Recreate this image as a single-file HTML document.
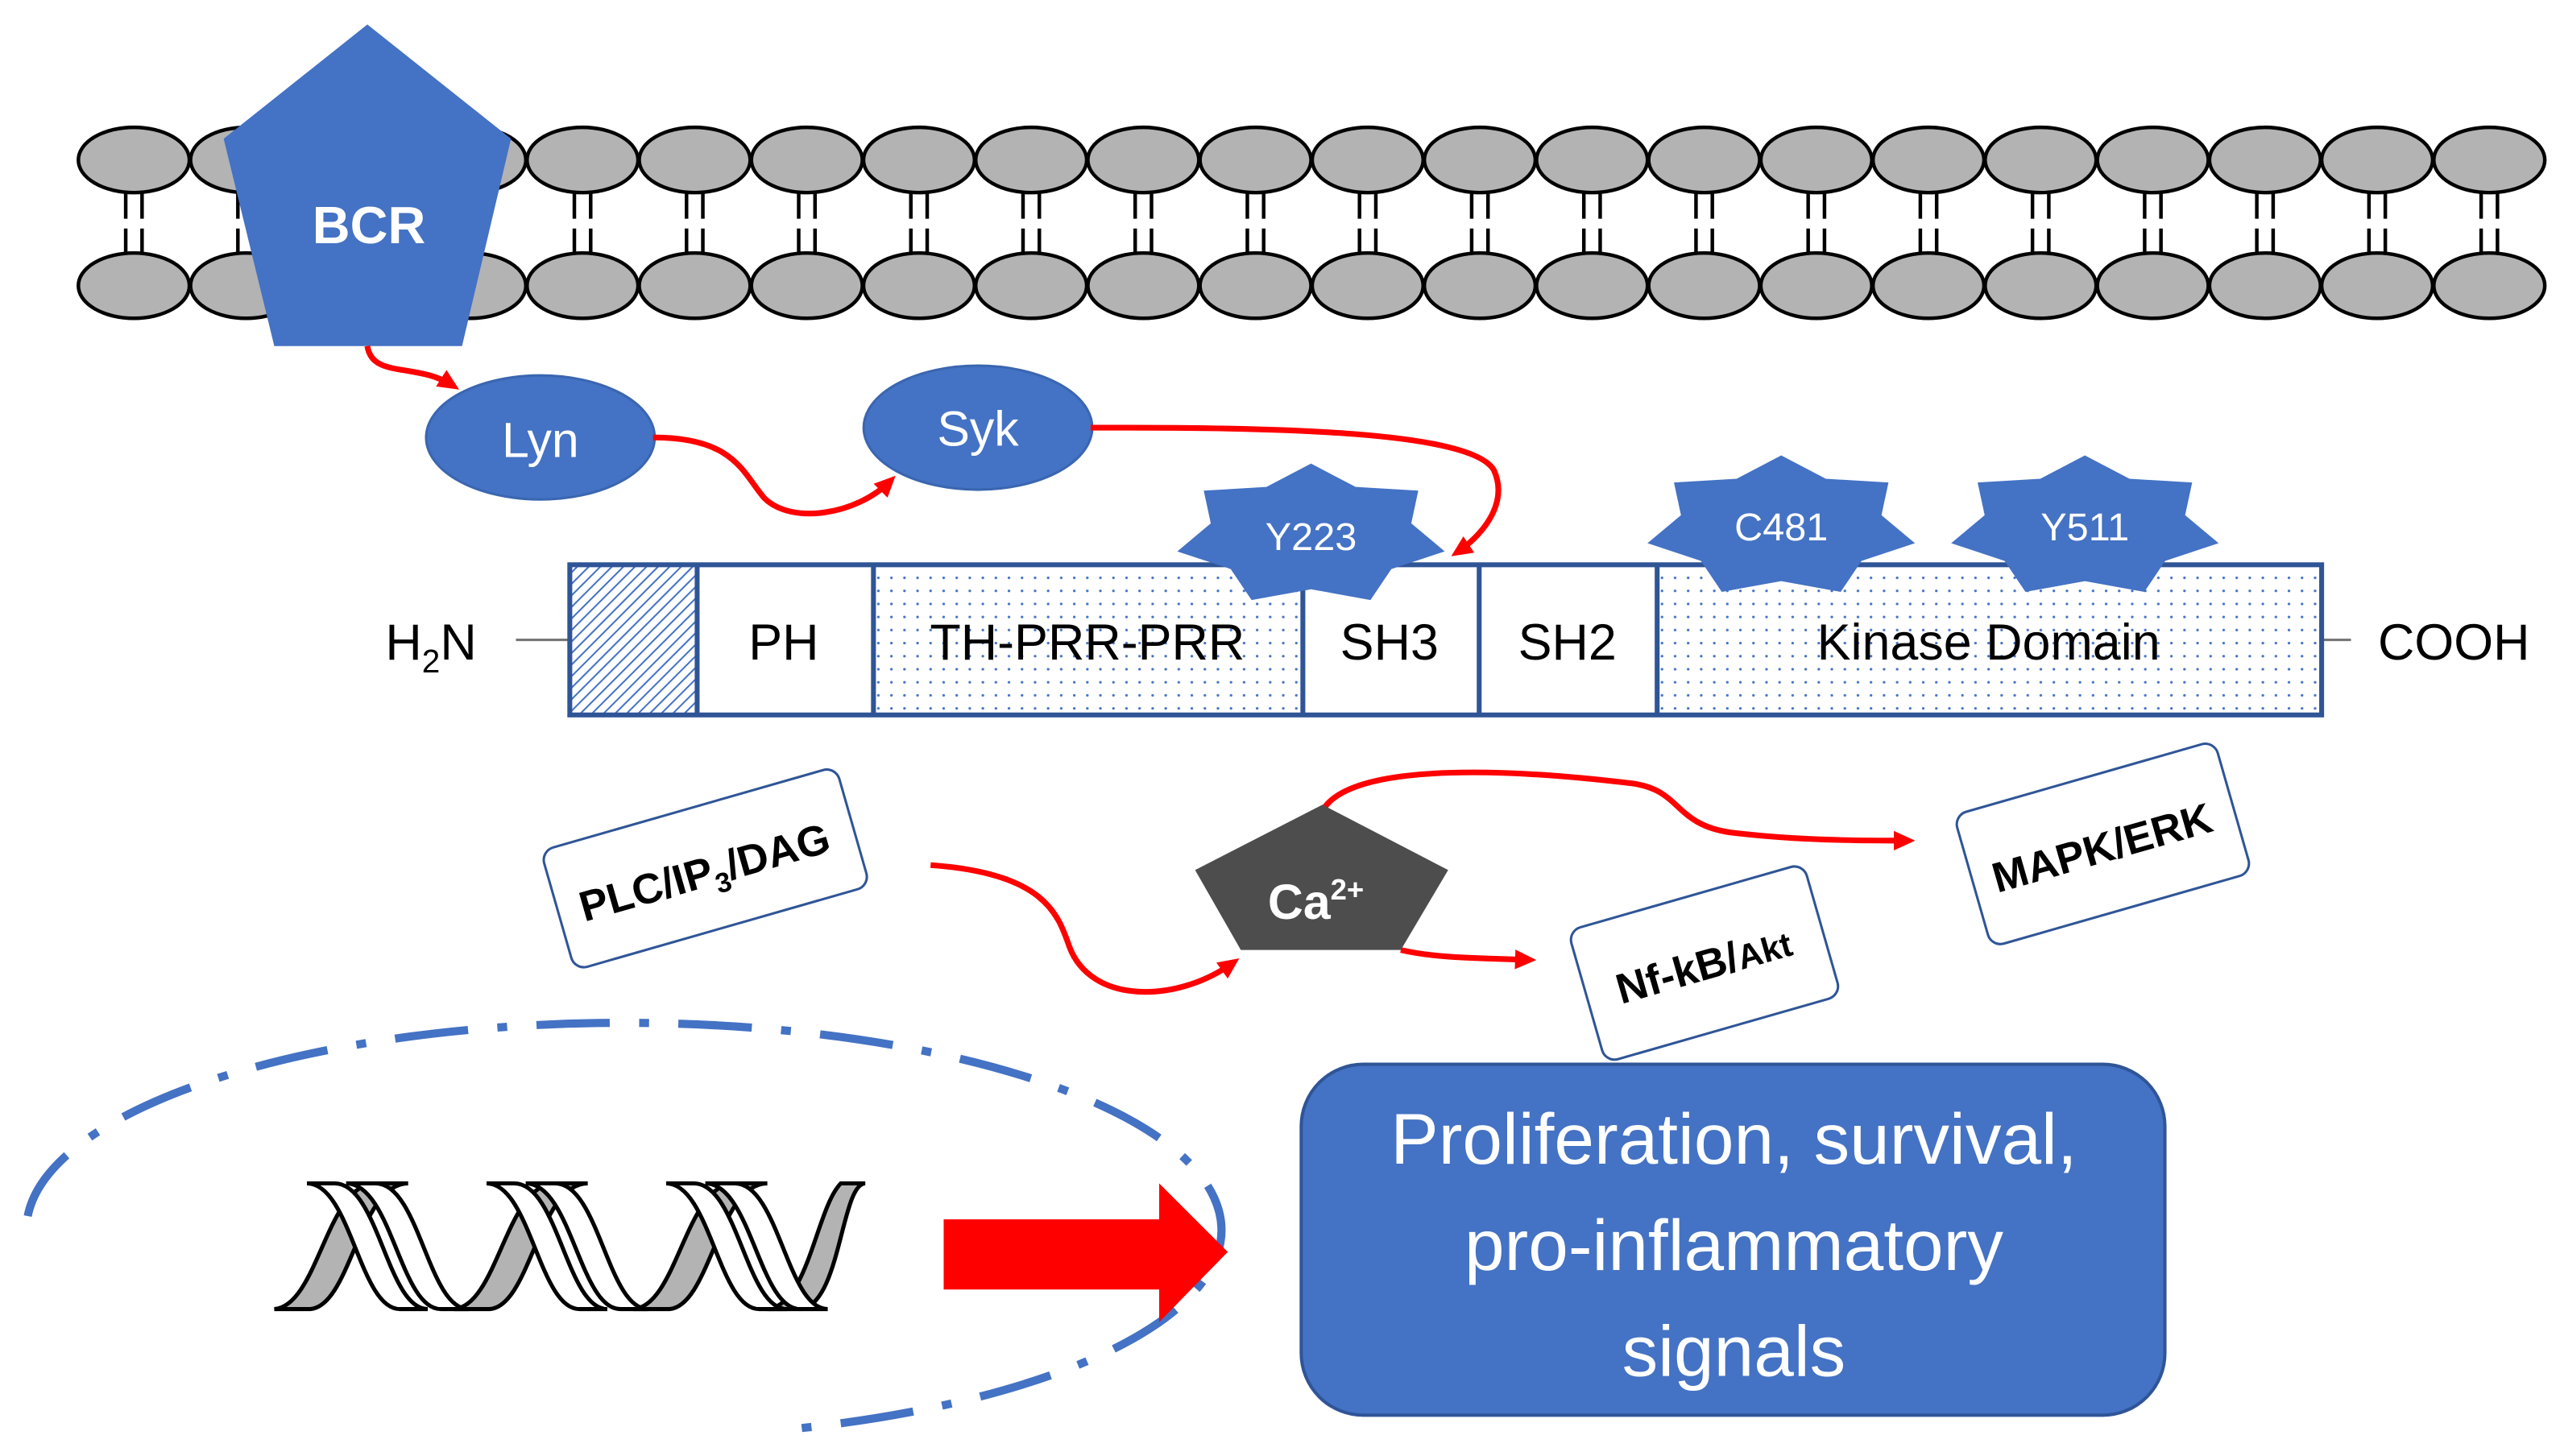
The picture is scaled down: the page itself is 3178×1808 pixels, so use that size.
<!DOCTYPE html>
<html><head><meta charset="utf-8"><style>
html,body{margin:0;padding:0;background:#fff;}
svg{display:block;}
text{font-family:"Liberation Sans",sans-serif;}
</style></head><body>
<svg width="3178" height="1808" viewBox="0 0 1568 892" preserveAspectRatio="none" xmlns="http://www.w3.org/2000/svg">
<defs>
<pattern id="hatch" width="5" height="5" patternUnits="userSpaceOnUse" patternTransform="rotate(45)">
<rect width="5" height="5" fill="#fff"/><line x1="0" y1="0" x2="0" y2="5" stroke="#4472c4" stroke-width="2"/></pattern>
<pattern id="dots" width="8" height="8" patternUnits="userSpaceOnUse">
<rect width="8" height="8" fill="#fff"/><circle cx="2" cy="2" r="0.8" fill="#4472c4"/></pattern>
<marker id="ah" markerWidth="14" markerHeight="14" refX="8" refY="7" orient="auto" markerUnits="userSpaceOnUse">
<path d="M0,1 L13,7 L0,13 z" fill="#f00"/></marker>
<g id="l" stroke="#000" stroke-width="2.2">
<line x1="-5" y1="116" x2="-5" y2="134"/><line x1="5" y1="116" x2="5" y2="134"/>
<line x1="-5" y1="140" x2="-5" y2="158"/><line x1="5" y1="140" x2="5" y2="158"/>
<ellipse cx="0" cy="98" rx="34" ry="20" fill="#b3b3b3"/>
<ellipse cx="0" cy="175" rx="34" ry="20" fill="#b3b3b3"/>
</g>
<polygon id="st" fill="#4472c4" points="0,-44 27.3,-29.7 65.7,-27.4 61.4,-7.4 81.9,9.8 49.2,20.6 36.4,39.6 0,33 -36.4,39.6 -49.2,20.6 -81.9,9.8 -61.4,-7.4 -65.7,-27.4 -27.3,-29.7"/>
</defs>

<!-- lipid bilayer -->
<use href="#l" x="82"/><use href="#l" x="150.7"/><use href="#l" x="219.4"/><use href="#l" x="288.1"/>
<use href="#l" x="356.8"/><use href="#l" x="425.5"/><use href="#l" x="494.2"/><use href="#l" x="562.9"/>
<use href="#l" x="631.6"/><use href="#l" x="700.3"/><use href="#l" x="769"/><use href="#l" x="837.7"/>
<use href="#l" x="906.4"/><use href="#l" x="975.1"/><use href="#l" x="1043.8"/><use href="#l" x="1112.5"/>
<use href="#l" x="1181.2"/><use href="#l" x="1249.9"/><use href="#l" x="1318.6"/><use href="#l" x="1387.3"/>
<use href="#l" x="1456"/><use href="#l" x="1524.7"/>

<!-- BCR -->
<polygon points="225,15 313,85 283,212 168,212 137,85" fill="#4472c4"/>
<text x="226" y="149" font-size="32" font-weight="bold" fill="#fff" text-anchor="middle">BCR</text>

<!-- Lyn, Syk -->
<ellipse cx="331" cy="268" rx="70" ry="38" fill="#4472c4" stroke="#3a66b0" stroke-width="1.5"/>
<text x="331" y="280" font-size="30" fill="#fff" text-anchor="middle">Lyn</text>
<ellipse cx="599" cy="262" rx="70" ry="38" fill="#4472c4" stroke="#3a66b0" stroke-width="1.5"/>
<text x="599" y="273" font-size="30" fill="#fff" text-anchor="middle">Syk</text>

<!-- red connectors -->
<g fill="none" stroke="#f00" stroke-width="3.5">
<path d="M225,212 C228,232 255,222 277,236" marker-end="url(#ah)"/>
<path d="M400,268 C450,268 455,290 468,305 C485,322 525,315 545,295" marker-end="url(#ah)"/>
<path d="M668,262 C760,262 900,262 915,288 C925,310 905,330 893,338" marker-end="url(#ah)"/>
<path d="M570,530 C640,535 648,560 655,580 C668,615 720,615 755,590" marker-end="url(#ah)"/>
<path d="M808,502 C815,470 900,468 1000,480 C1030,484 1025,505 1060,510 C1100,515 1140,515 1168,515" marker-end="url(#ah)"/>
<path d="M858,582 C880,587 905,587 936,588" marker-end="url(#ah)"/>
</g>

<!-- protein bar -->
<line x1="316" y1="392" x2="349" y2="392" stroke="#777" stroke-width="1.5"/>
<line x1="1422" y1="392" x2="1440" y2="392" stroke="#777" stroke-width="1.5"/>
<rect x="349" y="346" width="78" height="92" fill="url(#hatch)"/>
<rect x="535" y="346" width="263" height="92" fill="url(#dots)"/>
<rect x="1015" y="346" width="407" height="92" fill="url(#dots)"/>
<g stroke="#2f5597" stroke-width="3" fill="none">
<rect x="349" y="346" width="1073" height="92"/>
<line x1="427" y1="346" x2="427" y2="438"/><line x1="535" y1="346" x2="535" y2="438"/>
<line x1="798" y1="346" x2="798" y2="438"/><line x1="906" y1="346" x2="906" y2="438"/>
<line x1="1015" y1="346" x2="1015" y2="438"/>
</g>

<!-- stars -->
<use href="#st" x="803" y="328"/><use href="#st" x="1091" y="323"/><use href="#st" x="1277" y="323"/>
<g font-size="24" fill="#fff" text-anchor="middle">
<text x="803" y="337">Y223</text><text x="1091" y="331">C481</text><text x="1277" y="331">Y511</text>
</g>

<g font-size="31" fill="#000" text-anchor="middle">
<text x="480" y="404">PH</text>
<text x="666" y="404">TH-PRR-PRR</text>
<text x="851" y="404">SH3</text>
<text x="960" y="404">SH2</text>
<text x="1218" y="404">Kinase Domain</text>
<text x="1503" y="404">COOH</text>
<text x="264" y="404">H<tspan font-size="20" dy="8">2</tspan><tspan dy="-8">N</tspan></text>
</g>

<!-- rotated boxes -->
<g stroke="#2f5597" stroke-width="1.5" fill="#fff">
<rect x="-94" y="-38" width="188" height="76" rx="8" transform="translate(432,532) rotate(-16)"/>
<rect x="-75" y="-42" width="150" height="84" rx="8" transform="translate(1044,590) rotate(-16)"/>
<rect x="-83" y="-42" width="166" height="84" rx="8" transform="translate(1288,517) rotate(-16)"/>
</g>
<g font-size="26" font-weight="bold" fill="#000" text-anchor="middle">
<text transform="translate(434,543) rotate(-16)">PLC/IP<tspan font-size="17" dy="6">3</tspan><tspan dy="-6">/DAG</tspan></text>
<text transform="translate(1046,600) rotate(-16)">Nf-kB/<tspan font-size="21">Akt</tspan></text>
<text transform="translate(1290,528) rotate(-16)">MAPK/ERK</text>
</g>

<!-- Ca2+ -->
<polygon points="810,493 887,533 858,582 760,582 732,533" fill="#4d4d4d"/>
<text x="806" y="563" font-size="30" font-weight="bold" fill="#fff" text-anchor="middle">Ca<tspan font-size="18" dy="-12">2+</tspan></text>

<!-- dash-dot ellipse arc -->
<path d="M17,745 A366,127 0 1 1 480,876" fill="none" stroke="#4472c4" stroke-width="5" stroke-dasharray="45,18,6,18"/>

<!-- DNA -->
<g stroke="#000" stroke-width="2.5">
<path d="M168,802 C195,800 200,725 230,725 L250,725 C220,725 215,800 190,802 Z" fill="#b3b3b3"/>
<path d="M278,802 C305,800 310,725 340,725 L360,725 C330,725 325,800 300,802 Z" fill="#b3b3b3"/>
<path d="M388,802 C415,800 420,725 450,725 L470,725 C440,725 435,800 410,802 Z" fill="#b3b3b3"/>
<path d="M490,802 C515,800 515,725 530,725 L515,725 C500,740 495,800 470,802 Z" fill="#b3b3b3"/>
</g>
<g stroke="#000" stroke-width="2.5" fill="#fff">
<path d="M188,725 C215,725 220,802 245,802 L262,802 C237,802 232,725 205,725 Z"/>
<path d="M212,725 C240,725 245,802 270,802 L287,802 C262,802 257,725 230,725 Z"/>
<path d="M298,725 C325,725 330,802 355,802 L372,802 C347,802 342,725 315,725 Z"/>
<path d="M322,725 C350,725 355,802 380,802 L397,802 C372,802 367,725 340,725 Z"/>
<path d="M408,725 C435,725 440,802 465,802 L482,802 C457,802 452,725 425,725 Z"/>
<path d="M432,725 C460,725 465,802 490,802 L507,802 C482,802 477,725 450,725 Z"/>
</g>

<!-- red big arrow -->
<polygon points="578,747 710,747 710,725 752,767 710,810 710,790 578,790" fill="#f00"/>

<!-- output box -->
<rect x="797" y="652" width="529" height="215" rx="38" fill="#4472c4" stroke="#2f5597" stroke-width="2"/>
<g font-size="44" fill="#fff" text-anchor="middle">
<text x="1062" y="713">Proliferation, survival,</text>
<text x="1062" y="778">pro-inflammatory</text>
<text x="1062" y="843">signals</text>
</g>
</svg>
</body></html>
